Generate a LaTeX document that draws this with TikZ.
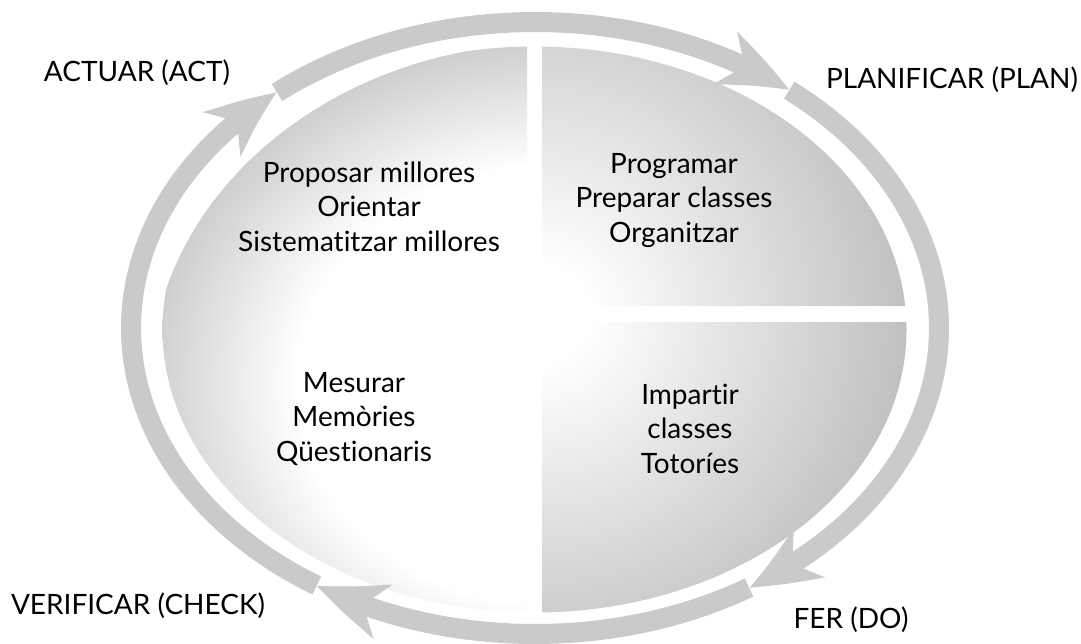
\documentclass[tikz,border=0pt]{standalone}
\usepackage{fontspec}
\setmainfont{Lato}[Ligatures=NoCommon]
\usetikzlibrary{arrows.meta,bending,calc}
\definecolor{ringgray}{RGB}{202,202,202}
\colorlet{lrim}{black!19}
\colorlet{rrim}{black!27}
\pgfdeclareradialshading{lshade}{\pgfpoint{0bp}{0bp}}{color(0bp)=(white); color(16bp)=(white); color(25bp)=(lrim); color(50bp)=(lrim)}
\pgfdeclareradialshading{rshade}{\pgfpoint{0bp}{0bp}}{color(0bp)=(white); color(3bp)=(white); color(25bp)=(rrim); color(50bp)=(rrim)}
\begin{document}
\begin{tikzpicture}[x=1pt,y=1pt,
  lbl/.style={font=\fontsize{28}{34}\selectfont, inner sep=0pt, anchor=base, text=black},
  blk/.style={font=\fontsize{28}{34.5}\selectfont, inner sep=0pt, align=center, anchor=base, text=black},
  ringarc/.style={draw=ringgray, line width=20pt, -{Stealth[length=70pt,width=56pt,inset=20pt,bend]}}]
\useasboundingbox (0,0) rectangle (1081,-643);
\coordinate (E) at (534.5,-329.5);
\coordinate (R) at (535,-328);
% left half
\begin{scope}
\clip (E) ellipse [x radius=372pt, y radius=283pt];
\clip (0,0) rectangle (527,-643);
\shade[shading=lshade] (555,-385) ellipse [x radius=405pt, y radius=342pt];
\end{scope}
% right half (two quadrants)
\begin{scope}
\clip (E) ellipse [x radius=372pt, y radius=283pt];
\clip (542,0) rectangle (1081,-306) (542,-322) rectangle (1081,-643);
\shade[shading=rshade] (540,-314) circle [radius=400pt];
\end{scope}
% ring arrows
\coordinate (pA) at ($(R)+(129.7:404pt and 306pt)$);
\coordinate (pB) at ($(R)+(51:404pt and 306pt)$);
\coordinate (pC) at ($(R)+(-58:404pt and 306pt)$);
\coordinate (pD) at ($(R)+(-122.7:404pt and 306pt)$);
\draw[ringarc] (pA) arc[start angle=129.7, end angle=51, x radius=404pt, y radius=306pt];
\draw[ringarc] (pB) arc[start angle=51, end angle=-58, x radius=404pt, y radius=306pt];
\draw[ringarc] (pC) arc[start angle=-58, end angle=-122.7, x radius=404pt, y radius=306pt];
\draw[ringarc] (pD) arc[start angle=237.3, end angle=129.7, x radius=404pt, y radius=306pt];
% labels
\node[lbl] (act) at (137,-81) {ACTUAR (ACT)};
\node[lbl] (plan) at (952,-88) {PLANIFICAR (PLAN)};
\node[lbl] (check) at (138,-614) {VERIFICAR (CHECK)};
\node[lbl] (do) at (851,-628) {FER (DO)};
\node[blk] (tl) at (369,-251) {Proposar millores\\Orientar\\Sistematitzar millores};
\node[blk] (tr) at (674,-242) {Programar\\Preparar classes\\Organitzar};
\node[blk] (bl) at (354,-461) {Mesurar\\Memòries\\Qüestionaris};
\node[blk] (br) at (690,-473) {Impartir\\classes\\Totoríes};
\end{tikzpicture}
\end{document}
